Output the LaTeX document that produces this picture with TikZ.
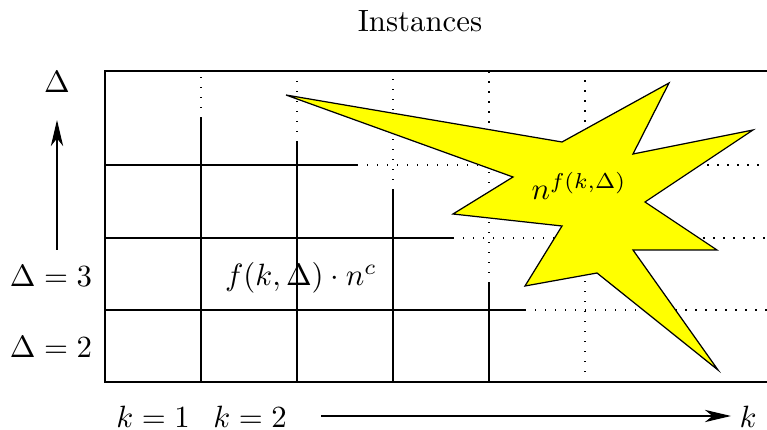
\documentclass[tikz,border=0pt]{standalone}
\usetikzlibrary{arrows.meta}
\definecolor{staryellow}{RGB}{255,255,0}
\begin{document}
\begin{tikzpicture}[x=0.3247pt,y=-0.3247pt,
  gridline/.style={line width=0.35pt},
  dotline/.style={line width=0.45pt,dash pattern=on 0.45pt off 2.8pt},
  arr/.style={line width=0.4pt,-{Stealth[length=8.5pt,width=4pt,inset=2.5pt]}},
  star/.style={fill=staryellow,draw=black,line width=0.4pt,line join=miter},
  lab/.style={inner sep=0pt,anchor=base}]
\useasboundingbox (0,0) rectangle (767,430);
% frame
\draw[gridline] (767,71) -- (105,71) -- (105,382) -- (767,382);
% horizontal lines
\draw[gridline] (105,165) -- (357,165);
\draw[dotline] (357,165) -- (767,165);
\draw[gridline] (105,238) -- (453,238);
\draw[dotline] (453,238) -- (767,238);
\draw[gridline] (105,310) -- (525,310);
\draw[dotline] (525,310) -- (767,310);
% vertical lines
\draw[gridline] (201,382) -- (201,118);
\draw[dotline] (201,118) -- (201,71);
\draw[gridline] (297,382) -- (297,142);
\draw[dotline] (297,142) -- (297,71);
\draw[gridline] (393,382) -- (393,190);
\draw[dotline] (393,190) -- (393,71);
\draw[gridline] (489,382) -- (489,283);
\draw[dotline] (489,283) -- (489,71);
\draw[dotline] (585,382) -- (585,71);
% star
\draw[star] (286,95) -- (562,142) -- (669,83) -- (633,154) -- (753,130)
  -- (645,202) -- (717,250) -- (633,250) -- (718,370) -- (597,273)
  -- (525,286) -- (562,226) -- (453,214) -- (513,177) -- cycle;
% labels
\node[lab] (title) at (420,32) {Instances};
\node[lab] (dtop) at (57,93) {$\Delta$};
\node[lab] (d3) at (51,287) {$\Delta=3$};
\node[lab] (d2) at (51,358) {$\Delta=2$};
\node[lab] (k1) at (153,428) {$k=1$};
\node[lab] (k2) at (250,428) {$k=2$};
\node[lab] (kk) at (748,428) {$k$};
\node[lab] (poly) at (301,286) {$f(k,\Delta)\cdot n^c$};
\node[lab] (expo) at (579,200) {$n^{f(k,\Delta)}$};
% arrows
\coordinate (va) at (57,250);
\coordinate (vb) at (57,120);
\draw[arr] (va) -- (vb);
\coordinate (ha) at (321,416);
\coordinate (hb) at (731,416);
\draw[arr] (ha) -- (hb);
\end{tikzpicture}
\end{document}
